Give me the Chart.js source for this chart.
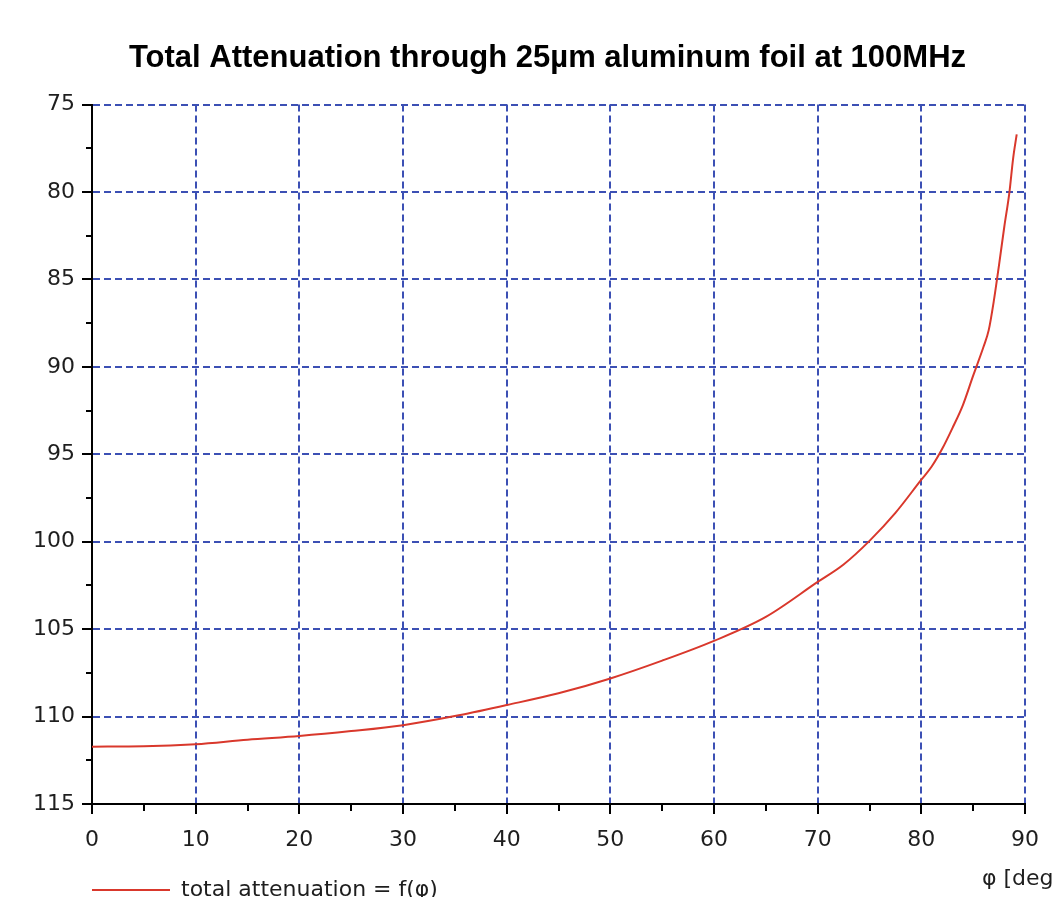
<!DOCTYPE html>
<html>
<head>
<meta charset="utf-8">
<script src="https://cdn.jsdelivr.net/npm/chart.js@4/dist/chart.umd.min.js"></script>
<style>
  html, body { margin: 0; padding: 0; background: #ffffff; }
  #wrap { width: 1055px; height: 897px; position: relative; }
</style>
</head>
<body>
<div id="wrap"><canvas id="c"></canvas></div>
<script>
// ---- data ----
const TITLE = 'Total Attenuation through 25\u00b5m aluminum foil at 100MHz';
const SERIES_LABEL = 'total attenuation = f(\u03c6)';
const X_TITLE = '\u03c6 [deg]';

const angleDeg = [0, 5, 10, 15, 20, 25, 30, 35, 40, 45, 50, 55, 60, 65, 70, 72.5, 75, 77.5,
                  80, 81, 82, 83, 84, 85, 86, 86.5, 87, 87.5, 88, 88.5, 88.85, 89.2];
const attenuation = [111.72, 111.70, 111.58, 111.32, 111.11, 110.83, 110.49, 109.97, 109.34,
                     108.67, 107.82, 106.80, 105.67, 104.30, 102.30, 101.30, 99.95, 98.35,
                     96.45, 95.70, 94.70, 93.50, 92.20, 90.50, 88.85, 87.90, 86.20, 84.15,
                     82.00, 80.00, 78.10, 76.70];

const xMin = 0, xMax = 90, xStep = 5, xLabelEvery = 10;
const yMin = 75, yMax = 115, yStep = 2.5, yLabelEvery = 5;

// ---- styling ----
const GRID_BLUE = '#3c50b4';
const LINE_RED = '#d9382c';
const NONE = 'rgba(0,0,0,0)';
const TEXT = '#1e1e1e';

Chart.defaults.font.family = '"DejaVu Sans", sans-serif';
Chart.defaults.color = TEXT;

const points = angleDeg.map((a, i) => ({ x: a, y: attenuation[i] }));

const isMajor = (v, every) => Math.abs(v / every - Math.round(v / every)) < 1e-9;

const xAxisTitlePlugin = {
  id: 'xAxisTitleRight',
  afterDraw(chart) {
    const { ctx, chartArea } = chart;
    ctx.save();
    ctx.font = '22px "DejaVu Sans", sans-serif';
    ctx.fillStyle = TEXT;
    ctx.textAlign = 'left';
    ctx.textBaseline = 'middle';
    ctx.fillText(X_TITLE, chartArea.right - 43, chartArea.bottom + 75);
    ctx.restore();
  }
};

new Chart(document.getElementById('c'), {
  type: 'line',
  data: {
    datasets: [{
      label: SERIES_LABEL,
      data: points,
      borderColor: LINE_RED,
      backgroundColor: LINE_RED,
      borderWidth: 2,
      pointRadius: 0,
      pointHoverRadius: 0,
      cubicInterpolationMode: 'monotone',
      fill: false
    }]
  },
  options: {
    responsive: true,
    maintainAspectRatio: false,
    animation: false,
    events: [],
    layout: { padding: { left: 30, right: -10, top: 0, bottom: -14 } },
    plugins: {
      title: {
        display: true,
        text: TITLE,
        color: '#000',
        font: { family: '"Liberation Sans", Arial, sans-serif', size: 31, weight: 'bold' },
        padding: { top: 40, bottom: 27.4 }
      },
      legend: {
        display: true,
        position: 'bottom',
        align: 'start',
        fullSize: false,
        title: { display: true, text: '', font: { size: 8 }, padding: { top: 3.4, bottom: 0 } },
        labels: {
          usePointStyle: true,
          pointStyle: 'line',
          pointStyleWidth: 78,
          padding: 0,
          color: TEXT,
          font: { size: 22 }
        }
      },
      tooltip: { enabled: false }
    },
    scales: {
      x: {
        type: 'linear',
        min: xMin,
        max: xMax,
        afterFit: (s) => { s.paddingRight = 30; },
        border: { display: true, color: '#000', width: 2, dash: [7, 4] },
        grid: {
          color: (c) => (c.tick && isMajor(c.tick.value, xLabelEvery) ? GRID_BLUE : NONE),
          lineWidth: 2,
          drawTicks: true,
          tickLength: 10,
          tickColor: '#000',
          tickWidth: 2,
          tickBorderDash: (c) => (c.tick && isMajor(c.tick.value, xLabelEvery) ? [] : [6, 30]),
          tickBorderDashOffset: 0
        },
        ticks: {
          stepSize: xStep,
          autoSkip: false,
          maxRotation: 0,
          padding: 12.8,
          font: { size: 22 },
          color: TEXT,
          callback: (v) => (isMajor(v, xLabelEvery) ? String(v) : '')
        }
      },
      y: {
        type: 'linear',
        reverse: true,
        min: yMin,
        max: yMax,
        afterFit: (s) => { s.width = 62; },
        border: { display: true, color: '#000', width: 2, dash: [7, 4] },
        grid: {
          color: (c) => (c.tick && isMajor(c.tick.value, yLabelEvery) ? GRID_BLUE : NONE),
          lineWidth: 2,
          drawTicks: true,
          tickLength: 10,
          tickColor: '#000',
          tickWidth: 2,
          tickBorderDash: (c) => (c.tick && isMajor(c.tick.value, yLabelEvery) ? [] : [6, 30]),
          tickBorderDashOffset: (c) => (c.tick && isMajor(c.tick.value, yLabelEvery) ? 0 : 32)
        },
        ticks: {
          stepSize: yStep,
          autoSkip: false,
          padding: 7,
          font: { size: 22 },
          color: TEXT,
          callback: (v) => (isMajor(v, yLabelEvery) ? String(v) : '')
        }
      }
    }
  },
  plugins: [xAxisTitlePlugin]
});
</script>
</body>
</html>
